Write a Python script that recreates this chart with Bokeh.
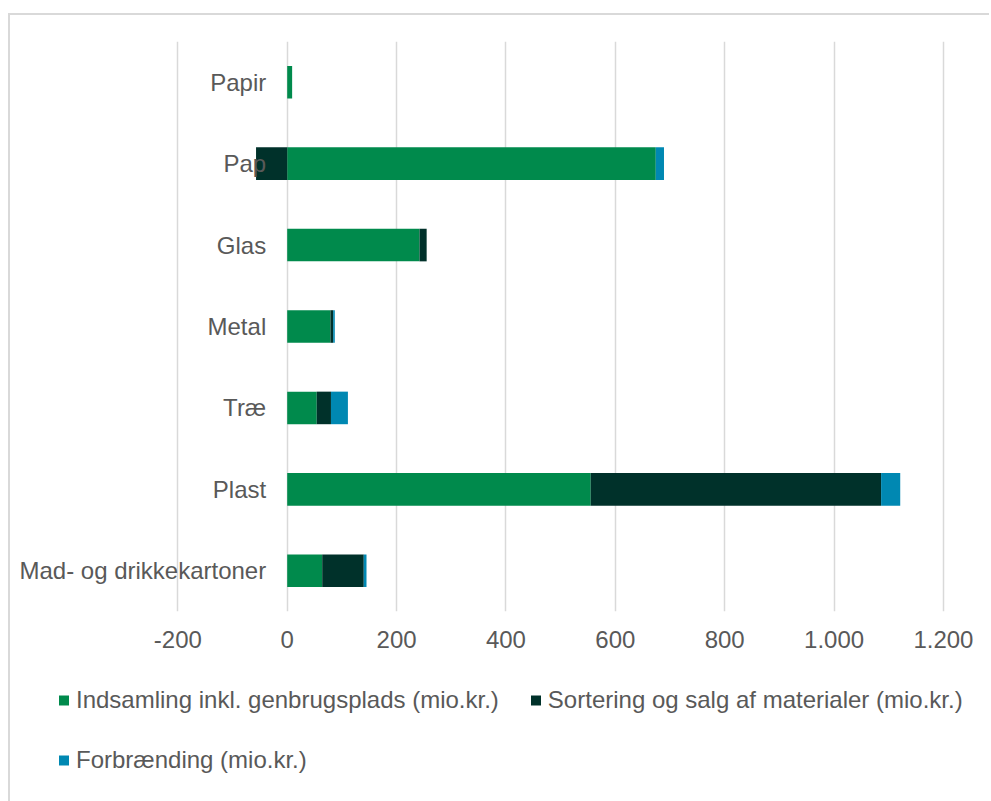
from bokeh.plotting import figure
from bokeh.layouts import column
from bokeh.models import Range1d, FactorRange, FixedTicker, CustomJSTickFormatter, Legend, LegendItem, ColumnDataSource
from bokeh.core.properties import value
from bokeh.embed import file_html
from bokeh.resources import INLINE

categories = ["Papir", "Pap", "Glas", "Metal", "Træ", "Plast", "Mad- og drikkekartoner"]
series_names = ["Indsamling inkl. genbrugsplads (mio.kr.)",
                "Sortering og salg af materialer (mio.kr.)",
                "Forbrænding (mio.kr.)"]
indsamling = [9, 674, 242, 79, 54, 555, 64]
sortering = [0, -57, 13, 5, 26, 531, 76]
forbraending = [0, 15, 0, 3, 31, 35, 5]
ticks = [-200, 0, 200, 400, 600, 800, 1000, 1200]
colors = ["#008A4C", "#00312A", "#0088B2"]

FONT = "Liberation Sans"
TXT = "#595959"
FS = "24px"
BORDER = "2px solid #D9D9D9"

series = [indsamling, sortering, forbraending]

p = figure(y_range=FactorRange(*reversed(categories)),
           x_range=Range1d(-498.7, 1249.5),
           frame_width=954, frame_height=568,
           min_border_left=4, min_border_right=21, min_border_top=26, min_border_bottom=45,
           output_backend="svg", toolbar_location=None)
p.margin = (13, 0, 0, 8)
p.styles = {"border-left": BORDER, "border-top": BORDER}

# Excel-style stacking: positives from 0 to the right, negatives from 0 to the left
pos = [0.0] * len(categories)
neg = [0.0] * len(categories)
for vals, col in zip(series, colors):
    left, right = [], []
    for i, v in enumerate(vals):
        if v >= 0:
            left.append(pos[i]); right.append(pos[i] + v); pos[i] += v
        else:
            left.append(neg[i] + v); right.append(neg[i]); neg[i] += v
    src = ColumnDataSource(dict(y=categories, left=left, right=right))
    p.hbar(y="y", left="left", right="right", height=0.4, source=src,
           fill_color=col, line_color=None)

# category labels at the zero line
lab = ColumnDataSource(dict(y=categories, x=[0] * len(categories)))
p.text(x="x", y="y", text="y", source=lab, x_offset=-21, text_align="right",
       text_baseline="middle", text_font=value(FONT), text_font_size=FS,
       text_color=TXT)

p.yaxis.visible = False
p.ygrid.visible = False
p.xaxis.ticker = FixedTicker(ticks=ticks)
p.xgrid.ticker = FixedTicker(ticks=ticks)
p.xgrid.grid_line_color = "#D9D9D9"
p.xgrid.grid_line_width = 1.5
p.xaxis.formatter = CustomJSTickFormatter(code="""
    return tick.toLocaleString('de-DE');
""")
p.xaxis.axis_line_color = None
p.xaxis.major_tick_line_color = None
p.xaxis.minor_tick_line_color = None
p.xaxis.major_label_standoff = 13
p.xaxis.major_label_text_font = FONT
p.xaxis.major_label_text_font_size = FS
p.xaxis.major_label_text_color = TXT
p.outline_line_color = None

# legend panel
p2 = figure(x_range=Range1d(0, 1), y_range=Range1d(0, 1),
            frame_width=954, frame_height=147,
            min_border_left=4, min_border_right=21, min_border_top=0, min_border_bottom=0,
            output_backend="svg", toolbar_location=None)
p2.margin = (0, 0, 0, 8)
p2.styles = {"border-left": BORDER}
p2.axis.visible = False
p2.grid.visible = False
p2.outline_line_color = None
lr = []
nan = float("nan")
for col in colors:
    # legend proxies: a single NaN point, so nothing is drawn in the panel itself
    lr.append(p2.scatter(x=[nan], y=[nan], marker="square", size=10,
                         fill_color=col, line_color=None))
items = [LegendItem(label=n, renderers=[r]) for n, r in zip(series_names, lr)]
legend = Legend(items=items, orientation="horizontal", nrows=2, location=(37, 23),
                spacing=24, glyph_width=25, glyph_height=36, label_height=36,
                label_standoff=0,
                label_text_font=FONT, label_text_font_size=FS,
                label_text_color=TXT, border_line_color=None,
                background_fill_alpha=0, padding=0, margin=0)
p2.add_layout(legend, "center")

layout = column(p, p2, spacing=0)
open("out.html", "w").write(file_html(layout, INLINE))
